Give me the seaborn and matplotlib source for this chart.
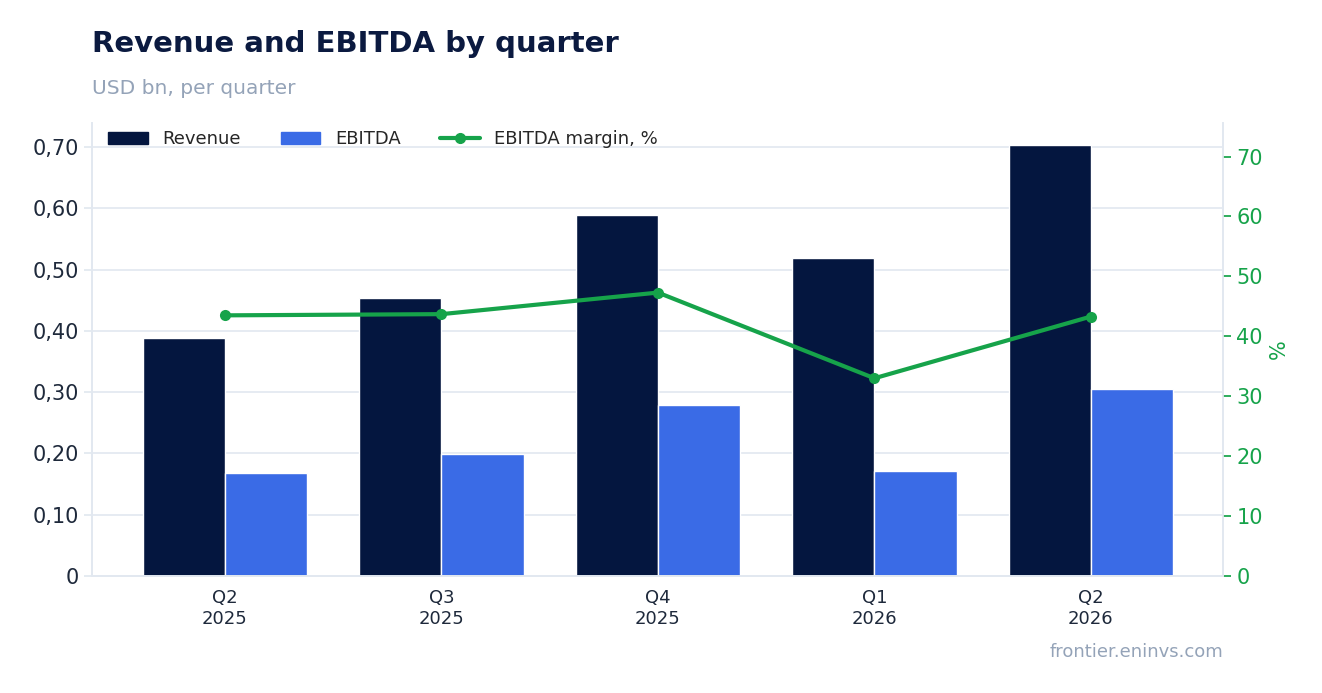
import numpy as np
import pandas as pd
import seaborn as sns
import matplotlib.pyplot as plt
from matplotlib.ticker import FuncFormatter
from matplotlib.lines import Line2D
from matplotlib.patches import Patch

quarters = ["Q2\n2025", "Q3\n2025", "Q4\n2025", "Q1\n2026", "Q2\n2026"]
revenue = [0.388, 0.453, 0.589, 0.519, 0.703]
ebitda = [0.168, 0.199, 0.279, 0.171, 0.305]
margin = [43.5, 43.7, 47.3, 33.0, 43.3]

NAVY = "#04163F"
BLUE = "#3A6BE6"
GREEN = "#16A34A"
GRID = "#E2E8F0"

sns.set_theme(style="white")
plt.rcParams["font.family"] = ["DejaVu Sans"]

df = pd.DataFrame({
    "quarter": quarters * 2,
    "value": revenue + ebitda,
    "series": ["Revenue"] * 5 + ["EBITDA"] * 5,
})

fig = plt.figure(figsize=(13.22, 6.93), dpi=100)
ax = fig.add_axes([92 / 1322, 1 - 576 / 693, (1223 - 92) / 1322, (576 - 123) / 693])

sns.barplot(data=df, x="quarter", y="value", hue="series", palette=[NAVY, BLUE],
            width=0.76, gap=0, ax=ax, legend=False, saturation=1)
ax.set_xlim(-0.614, 4.61)
ax.set_ylim(0, 0.739)
ax.set_yticks(np.arange(0, 0.71, 0.1))
ax.yaxis.set_major_formatter(FuncFormatter(lambda v, p: "0" if abs(v) < 1e-9 else f"{v:.2f}".replace(".", ",")))
ax.grid(axis="y", color=GRID, linewidth=1.2)
ax.set_axisbelow(True)
ax.set_xlabel("")
ax.set_ylabel("")
ax.tick_params(axis="y", labelsize=15, colors="#1E293B", length=6, color=GRID)
ax.tick_params(axis="x", labelsize=13, colors="#1E293B", length=6, color=GRID)
for s in ["left", "bottom", "right"]:
    ax.spines[s].set_color(GRID)
ax.spines["top"].set_visible(False)

ax2 = ax.twinx()
sns.lineplot(x=np.arange(5), y=margin, color=GREEN, linewidth=3, marker="o",
             markersize=8, markeredgewidth=0, ax=ax2)
ax2.set_ylim(0, 75.6)
ax2.set_yticks(np.arange(0, 71, 10))
ax2.tick_params(axis="y", labelsize=15, colors=GREEN, length=6)
ax2.set_ylabel("%", color=GREEN, fontsize=15)
for s in ["left", "bottom", "right"]:
    ax2.spines[s].set_color(GRID)
ax2.spines["top"].set_visible(False)

handles = [Patch(color=NAVY), Patch(color=BLUE),
           Line2D([], [], color=GREEN, linewidth=3, marker="o", markersize=7)]
ax2.legend(handles, ["Revenue", "EBITDA", "EBITDA margin, %"], loc="upper left",
           ncol=3, frameon=False, fontsize=13, bbox_to_anchor=(0.0, 1.02),
           handlelength=2.2, columnspacing=2.2)

fig.text(92 / 1322, 1 - 44 / 693, "Revenue and EBITDA by quarter", fontsize=21,
         fontweight="bold", color="#0B1A40", va="center")
fig.text(92 / 1322, 1 - 88 / 693, "USD bn, per quarter", fontsize=14.5,
         color="#94A3B8", va="center")
fig.text(1223 / 1322, 1 - 652 / 693, "frontier.eninvs.com", fontsize=13,
         color="#94A3B8", ha="right", va="center")

fig.savefig("out.png", dpi=100)
